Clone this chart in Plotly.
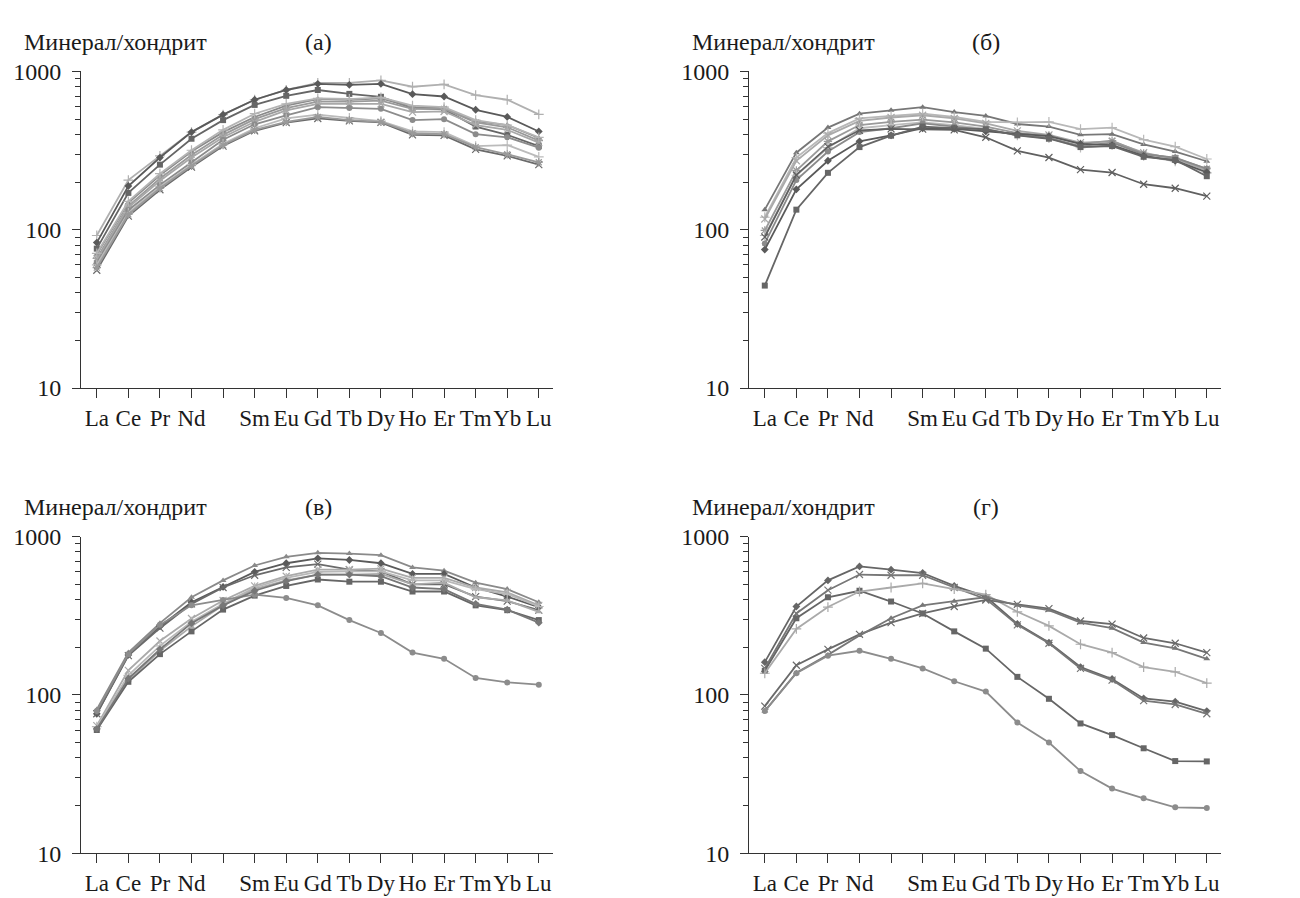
import plotly.graph_objects as go

# Elements (Pm position kept as an unlabeled tick)
ree = ["La", "Ce", "Pr", "Nd", "Pm", "Sm", "Eu", "Gd", "Tb", "Dy", "Ho", "Er", "Tm", "Yb", "Lu"]
ree_labels = ["La", "Ce", "Pr", "Nd", "", "Sm", "Eu", "Gd", "Tb", "Dy", "Ho", "Er", "Tm", "Yb", "Lu"]
y_tickvals = [10, 100, 1000]
y_ticktext = ["10", "100", "1000"]
y_minor = [20, 30, 40, 50, 60, 70, 80, 90, 200, 300, 400, 500, 600, 700, 800, 900]

# Panel (а)
a1 = [92, 206, 293, 414, 534, 663, 764, 848, 848, 880, 801, 828, 709, 663, 536]
a2 = [83, 189, 286, 414, 534, 663, 764, 836, 824, 836, 719, 695, 573, 516, 418]
a3 = [76, 171, 258, 376, 493, 615, 702, 764, 722, 692, 587, 576, 449, 398, 338]
a4 = [70, 148, 221, 312, 414, 516, 609, 670, 663, 676, 595, 587, 486, 459, 380]
a5 = [66, 141, 211, 297, 398, 500, 587, 645, 645, 654, 581, 581, 477, 444, 366]
a6 = [64, 138, 204, 286, 384, 481, 568, 624, 624, 624, 554, 559, 459, 428, 355]
a7 = [62, 133, 192, 267, 371, 464, 529, 595, 589, 581, 493, 500, 402, 384, 330]
a8 = [71, 151, 226, 318, 428, 541, 624, 676, 670, 686, 609, 595, 493, 459, 384]
a9 = [55.5, 122, 179, 249, 338, 422, 475, 505, 488, 477, 398, 395, 322, 293, 258]
a10 = [60, 128, 187, 258, 349, 438, 505, 534, 509, 486, 418, 414, 338, 343, 289]
a11 = [57.6, 125, 183, 254, 343, 428, 481, 516, 493, 481, 408, 402, 333, 300, 267]

# Panel (б)
b1 = [134, 307, 442, 541, 568, 595, 554, 524, 466, 449, 398, 402, 346, 312, 271]
b2 = [120, 286, 408, 505, 524, 541, 516, 481, 477, 481, 432, 442, 371, 335, 280]
b3 = [117, 273, 395, 488, 512, 529, 505, 470, 422, 398, 355, 362, 307, 280, 237]
b4 = [99, 237, 362, 459, 481, 497, 477, 449, 408, 395, 349, 366, 303, 284, 243]
b5 = [92, 221, 330, 438, 459, 477, 459, 434, 395, 380, 330, 343, 293, 271, 229]
b6 = [82, 206, 312, 414, 438, 470, 449, 428, 398, 380, 338, 355, 300, 286, 243]
b7 = [75, 180, 273, 362, 395, 438, 434, 418, 402, 390, 349, 343, 293, 273, 231]
b8 = [44.4, 134, 229, 333, 393, 449, 438, 432, 395, 376, 333, 338, 289, 276, 218]
b9 = [90, 222, 335, 425, 434, 432, 428, 384, 315, 286, 240, 230, 194, 183, 163]

# Panel (в)
c1 = [81, 185, 284, 414, 529, 657, 746, 790, 782, 764, 639, 609, 512, 466, 385]
c2 = [76, 179, 271, 385, 481, 598, 679, 729, 712, 679, 581, 581, 477, 418, 359]
c3 = [76, 177, 264, 376, 477, 570, 639, 670, 618, 603, 500, 500, 418, 391, 343]
c4 = [64, 143, 219, 304, 395, 488, 562, 618, 618, 627, 549, 549, 477, 444, 368]
c5 = [63, 133, 204, 290, 376, 477, 549, 598, 603, 603, 529, 529, 466, 434, 362]
c6 = [61, 124, 190, 271, 368, 466, 529, 576, 576, 581, 500, 512, 414, 395, 335]
c7 = [60, 121, 181, 252, 346, 424, 488, 536, 519, 519, 450, 450, 368, 343, 297]
c8 = [79, 181, 277, 368, 398, 430, 410, 368, 297, 246, 185, 169, 128, 120, 116]
c9 = [61, 127, 194, 284, 368, 455, 524, 576, 576, 562, 477, 466, 376, 346, 286]

# Panel (г)
d1 = [161, 362, 529, 648, 618, 589, 488, 418, 281, 214, 150, 126, 95, 90.6, 79]
d2 = [147, 327, 459, 576, 570, 570, 477, 404, 277, 212, 147, 124, 92, 87, 76]
d3 = [142, 305, 414, 455, 389, 327, 252, 196, 130, 94.5, 66, 55.7, 46, 38.2, 38]
d4 = [137, 261, 359, 450, 477, 507, 466, 430, 335, 273, 209, 185, 150, 140, 118.6]
d5 = [85, 154, 194, 241, 286, 327, 362, 398, 373, 351, 293, 280, 229, 212, 185]
d6 = [79, 138, 179, 237, 305, 368, 391, 414, 368, 343, 286, 264, 214, 197, 169]
d7 = [79, 137, 177, 190, 169, 147, 122, 105, 67, 50, 33, 25.6, 22.2, 19.5, 19.3]

panels = [
    ("x", "y", [
        (a1, "#b0b0b0", "cross-thin-open"),
        (a2, "#5a5a5a", "diamond"),
        (a3, "#666666", "square"),
        (a4, "#8a8a8a", "triangle-up"),
        (a5, "#9a9a9a", "asterisk-open"),
        (a6, "#a8a8a8", "x-thin-open"),
        (a7, "#8c8c8c", "circle"),
        (a8, "#b4b4b4", "cross-thin-open"),
        (a9, "#6a6a6a", "x-thin-open"),
        (a10, "#bbbbbb", "cross-thin-open"),
        (a11, "#9a9a9a", "asterisk-open"),
    ]),
    ("x2", "y2", [
        (b1, "#777777", "triangle-up"),
        (b2, "#b8b8b8", "cross-thin-open"),
        (b3, "#aaaaaa", "x-thin-open"),
        (b4, "#9a9a9a", "asterisk-open"),
        (b5, "#bcbcbc", "cross-thin-open"),
        (b6, "#8a8a8a", "circle"),
        (b7, "#5a5a5a", "diamond"),
        (b8, "#666666", "square"),
        (b9, "#606060", "x-thin-open"),
    ]),
    ("x3", "y3", [
        (c1, "#8a8a8a", "triangle-up"),
        (c2, "#5a5a5a", "diamond"),
        (c3, "#6a6a6a", "x-thin-open"),
        (c4, "#aaaaaa", "x-thin-open"),
        (c5, "#b8b8b8", "cross-thin-open"),
        (c6, "#aaaaaa", "triangle-up"),
        (c7, "#666666", "square"),
        (c8, "#8c8c8c", "circle"),
        (c9, "#777777", "diamond"),
    ]),
    ("x4", "y4", [
        (d1, "#666666", "diamond"),
        (d2, "#777777", "x-thin-open"),
        (d3, "#666666", "square"),
        (d4, "#aaaaaa", "cross-thin-open"),
        (d5, "#6a6a6a", "x-thin-open"),
        (d6, "#777777", "triangle-up"),
        (d7, "#8c8c8c", "circle"),
    ]),
]

fig = go.Figure()
for xa, ya, series in panels:
    for vals, color, sym in series:
        thin = sym.endswith("-open")
        fig.add_trace(go.Scatter(
            x=ree, y=vals, xaxis=xa, yaxis=ya, mode="lines+markers",
            line=dict(color=color, width=1.8),
            marker=dict(symbol=sym, size=7 if thin else 6, color=color,
                        line=dict(color=color, width=1.2 if thin else 0)),
            showlegend=False, hoverinfo="skip", cliponaxis=False,
        ))

W, H = 1300, 898
FONT = "Liberation Serif, Times New Roman, serif"
TXT = "#1a1a1a"
left_dom = [73 / W, 545 / W]
right_dom = [741 / W, 1213 / W]
top_dom = [(H - 378) / H, (H - 52) / H]
bot_dom = [(H - 857) / H, (H - 531) / H]

def xax(domain, anchor):
    return dict(domain=domain, anchor=anchor, type="category",
                categoryorder="array", categoryarray=ree,
                range=[-0.5, 14.45], tickmode="array", tickvals=ree, ticktext=ree_labels,
                tickangle=0,
                ticks="outside", ticklen=9, tickwidth=1, tickcolor="#333",
                showline=True, linecolor="#333", linewidth=1,
                showgrid=False, zeroline=False,
                tickfont=dict(family=FONT, size=23, color=TXT))

def yax(domain, anchor):
    return dict(domain=domain, anchor=anchor, type="log", range=[1, 3],
                tickmode="array", tickvals=y_tickvals, ticktext=y_ticktext,
                ticks="outside", ticklen=8, tickwidth=1, tickcolor="#333",
                minor=dict(tickmode="array", tickvals=y_minor, ticks="outside",
                           ticklen=5, tickwidth=1, tickcolor="#333", showgrid=False),
                showline=True, linecolor="#333", linewidth=1,
                showgrid=False, zeroline=False, ticklabelstandoff=6,
                tickfont=dict(family=FONT, size=24, color=TXT))

fig.update_layout(
    width=W, height=H,
    margin=dict(l=0, r=0, t=0, b=0),
    paper_bgcolor="white", plot_bgcolor="white",
    showlegend=False,
    xaxis=xax(left_dom, "y"), yaxis=yax(top_dom, "x"),
    xaxis2=xax(right_dom, "y2"), yaxis2=yax(top_dom, "x2"),
    xaxis3=xax(left_dom, "y3"), yaxis3=yax(bot_dom, "x3"),
    xaxis4=xax(right_dom, "y4"), yaxis4=yax(bot_dom, "x4"),
)

titles = [
    (14, 22, "Минерал/хондрит", "left"), (310, 22, "(а)", "center"),
    (682, 22, "Минерал/хондрит", "left"), (978, 22, "(б)", "center"),
    (14, 501, "Минерал/хондрит", "left"), (310, 501, "(в)", "center"),
    (682, 501, "Минерал/хондрит", "left"), (978, 501, "(г)", "center"),
]
for px, py, txt, anchor in titles:
    fig.add_annotation(x=px / W, y=(H - py) / H, xref="paper", yref="paper",
                       text=txt, showarrow=False, xanchor=anchor, yanchor="middle",
                       font=dict(family=FONT, size=24, color=TXT))

fig.write_html("out.html")
